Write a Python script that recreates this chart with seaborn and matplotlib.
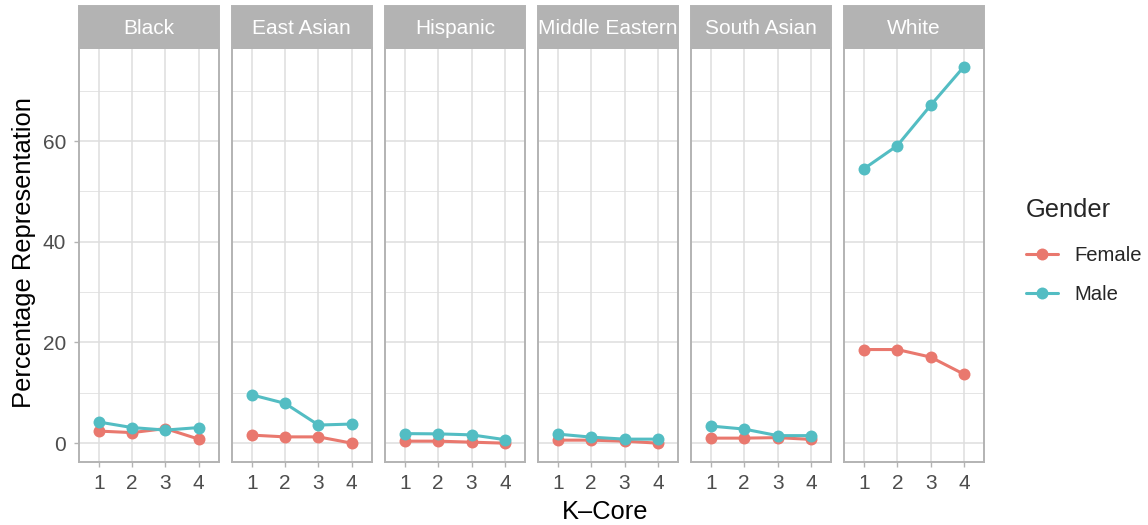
import numpy as np
import pandas as pd
import seaborn as sns
import matplotlib.pyplot as plt
from matplotlib.patches import Rectangle
from matplotlib.ticker import MultipleLocator
from matplotlib.lines import Line2D

# ---- data -------------------------------------------------------------
races = ["Black", "East Asian", "Hispanic", "Middle Eastern", "South Asian", "White"]
k_core = [1, 2, 3, 4]
genders = ["Female", "Male"]

# percentage representation per race (rows) and k-core level (columns)
female_pct = [
    [2.4, 2.1, 2.9, 0.8],
    [1.6, 1.25, 1.25, 0.0],
    [0.4, 0.4, 0.2, 0.0],
    [0.6, 0.6, 0.4, 0.0],
    [1.0, 1.0, 1.1, 0.75],
    [18.6, 18.6, 17.1, 13.7],
]
male_pct = [
    [4.2, 3.1, 2.6, 3.1],
    [9.6, 7.9, 3.6, 3.8],
    [1.9, 1.85, 1.65, 0.7],
    [1.8, 1.2, 0.8, 0.8],
    [3.4, 2.8, 1.5, 1.5],
    [54.5, 59.1, 67.1, 74.8],
]

rows = []
for i, race in enumerate(races):
    for j, k in enumerate(k_core):
        rows.append({"Race": race, "K": k, "Gender": "Female", "pct": female_pct[i][j]})
        rows.append({"Race": race, "K": k, "Gender": "Male", "pct": male_pct[i][j]})
df = pd.DataFrame(rows)

# ---- style ------------------------------------------------------------
sns.set_theme(style="white")
plt.rcParams["font.family"] = ["Liberation Sans", "DejaVu Sans"]

palette = {"Female": "#E9786E", "Male": "#53BDC3"}
border_col = "#B3B3B3"
grid_col = "#DEDEDE"
tick_label_col = "#4D4D4D"
small_fs = 15
legend_fs = 14.6
title_fs = 18.4
marker_size = 8.6
line_width = 2.2

g = sns.relplot(
    data=df, x="K", y="pct", hue="Gender", col="Race", col_order=races,
    hue_order=genders, palette=palette, kind="line", marker="o",
    markersize=marker_size, markeredgewidth=0, linewidth=line_width, legend=False,
    height=4, aspect=0.35, facet_kws={"sharey": True, "sharex": True},
)
fig = g.figure
fig.set_size_inches(11.48, 5.25)
fig.subplots_adjust(left=0.0686, right=0.8571, top=0.909, bottom=0.12, wspace=0.093)

ymax = 74.8
pad = 0.05 * ymax
for ax, race in zip(g.axes.flat, races):
    ax.set_xlim(0.4, 4.6)
    ax.set_ylim(-pad, ymax + pad)
    ax.set_xticks(k_core)
    ax.set_yticks([0, 20, 40, 60])
    ax.yaxis.set_minor_locator(MultipleLocator(10))
    ax.grid(True, which="major", color=grid_col, linewidth=1.1, zorder=0)
    ax.grid(True, which="minor", axis="y", color=grid_col, linewidth=0.55, zorder=0)
    ax.set_axisbelow(True)
    for s in ax.spines.values():
        s.set_visible(True)
        s.set_color(border_col)
        s.set_linewidth(1.4)
    ax.tick_params(axis="both", which="major", length=3.5, width=1.0, color=border_col,
                   labelsize=small_fs, labelcolor=tick_label_col, bottom=True, left=True)
    ax.tick_params(axis="x", which="major", pad=5)
    ax.tick_params(axis="y", which="major", pad=5.5)
    ax.tick_params(axis="y", which="minor", length=0)
    ax.set_title("")
    ax.set_xlabel("")
    ax.set_ylabel("")
    # facet strip
    ax.add_patch(Rectangle((0, 1.0), 1, 0.1007, transform=ax.transAxes,
                           facecolor=border_col, edgecolor=border_col, linewidth=1.4,
                           clip_on=False, zorder=5))
    ax.text(0.5, 1.046, race, transform=ax.transAxes, ha="center", va="center",
            color="white", fontsize=small_fs, zorder=6)

for ax in g.axes.flat[1:]:
    ax.tick_params(axis="y", which="both", left=False, labelleft=False)

fig.text(0.5269, 0.024, "K\u2013Core", ha="center", va="center", fontsize=title_fs, color="black")
fig.text(0.021, 0.518, "Percentage Representation", ha="center", va="center",
         rotation=90, fontsize=title_fs, color="black")

handles = [Line2D([0], [0], color=palette[gd], marker="o", markersize=marker_size,
                  markeredgewidth=0, linewidth=line_width) for gd in genders]
leg = fig.legend(handles, genders, title="Gender", loc="upper left",
                 bbox_to_anchor=(0.8886, 0.634), frameon=False, fontsize=legend_fs,
                 title_fontsize=title_fs, handlelength=1.55, handletextpad=0.85,
                 labelspacing=1.0, alignment="left", borderaxespad=0.0, borderpad=0.3)
# a little extra room between the legend title and its entries
leg._legend_box.sep += 2.5

fig.savefig("out.png", dpi=100)
